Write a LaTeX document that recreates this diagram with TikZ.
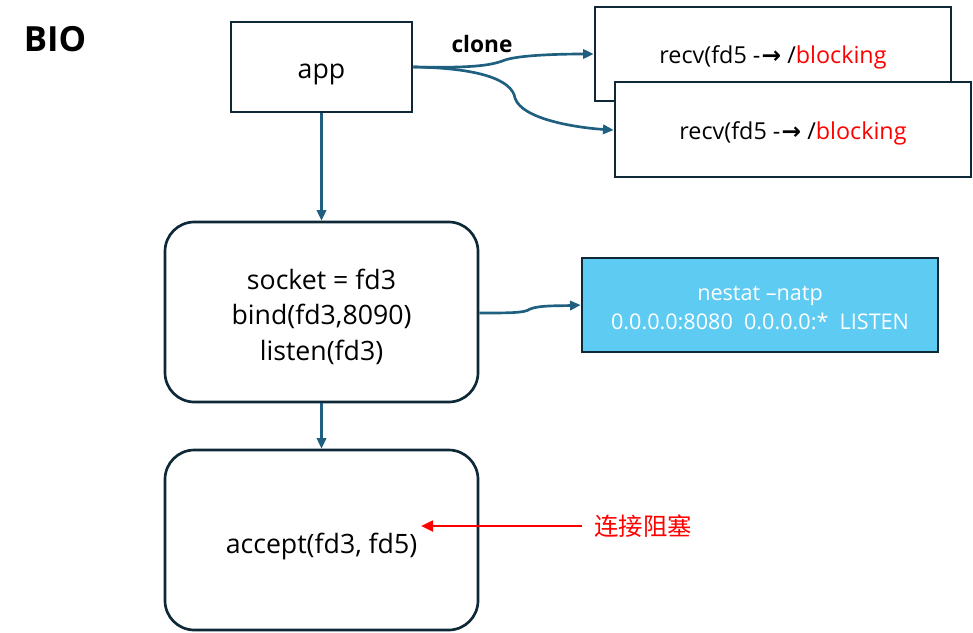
\documentclass[tikz,border=0pt]{standalone}
\usepackage{fontspec}
\setmainfont{Open Sans}
\newfontfamily\cjk{Noto Sans CJK SC}
\usetikzlibrary{arrows.meta}
\definecolor{bd}{HTML}{0E2838}
\definecolor{ar}{HTML}{1F5F80}
\definecolor{sky}{HTML}{5ECBF3}
\definecolor{rd}{HTML}{FF0000}
\begin{document}
\begin{tikzpicture}[x=0.75pt,y=-0.75pt,
  box/.style={draw=bd,line width=2pt,fill=white,inner sep=0pt},
  rbox/.style={box,rounded corners=22pt},
  conn/.style={draw=ar,line width=2pt,-{Triangle[length=8pt,width=7pt]}},
  txt/.style={font=\fontsize{20}{26.6}\selectfont,text=black,align=center}]
\useasboundingbox (0,0) rectangle (973,632);
\node[anchor=center,font=\bfseries\fontsize{26}{30}\selectfont] (bio) at (55,39) {BIO};
\node[box,minimum width=181*0.75pt,minimum height=90*0.75pt] (app) at (321.5,67) {};
\node[txt] (tapp) at (321.5,74) {app};
\node[box,minimum width=356*0.75pt,minimum height=94*0.75pt] (r1) at (773,54) {};
\node[txt,font=\fontsize{17.5}{21}\selectfont] (t1) at (773,57) {recv(fd5 -\kern1pt{\fontspec{DejaVu Sans}\bfseries →} /\textcolor{rd}{blocking}};
\node[box,minimum width=356*0.75pt,minimum height=95*0.75pt] (r2) at (793,129.5) {};
\node[txt,font=\fontsize{17.5}{21}\selectfont] (t2) at (793,133) {recv(fd5 -\kern1pt{\fontspec{DejaVu Sans}\bfseries →} /\textcolor{rd}{blocking}};
\node[font=\bfseries\fontsize{17}{20}\selectfont] (clone) at (482,44) {clone};
\node[rbox,minimum width=313*0.75pt,minimum height=180*0.75pt] (sock) at (321.5,312) {};
\node[txt] (ts) at (321.5,316.5) {socket = fd3\\bind(fd3,8090)\\listen(fd3)};
\node[box,fill=sky,minimum width=356*0.75pt,minimum height=94*0.75pt] (ns) at (760,305) {};
\node[txt,text=white,font=\fontsize{16.2}{21.8}\selectfont] (tn) at (760,308) {nestat --natp\\0.0.0.0:8080\ \ 0.0.0.0:*\ \ LISTEN};
\node[rbox,minimum width=313*0.75pt,minimum height=180*0.75pt] (acc) at (321.5,540) {};
\node[txt] (ta) at (321.5,546) {accept(fd3, fd5)};
\node[font=\cjk\fontsize{18.3}{21}\selectfont,text=rd] (zs) at (643,526) {连接阻塞};
\coordinate (aend) at (421,526);
% connectors
\draw[conn] (app.east) .. controls (470,68) and (490,66) .. (505,60) .. controls (520,55) and (560,54) .. (r1.west |- 0,54);
\draw[conn] (app.east) .. controls (480,68) and (512,80) .. (515,98) .. controls (522,120) and (580,128) .. (r2.west |- 0,130);
\draw[conn] (app.south) -- (sock.north);
\draw[conn] (sock.east |- 0,313) .. controls (510,313) and (525,313) .. (530,309) .. controls (540,305) and (560,306) .. (ns.west);
\draw[conn] (sock.south) -- (acc.north);
\draw[draw=rd,line width=2pt,-{Triangle[length=9pt,width=8pt]}] (582,526) -- (aend);
\end{tikzpicture}
\end{document}
